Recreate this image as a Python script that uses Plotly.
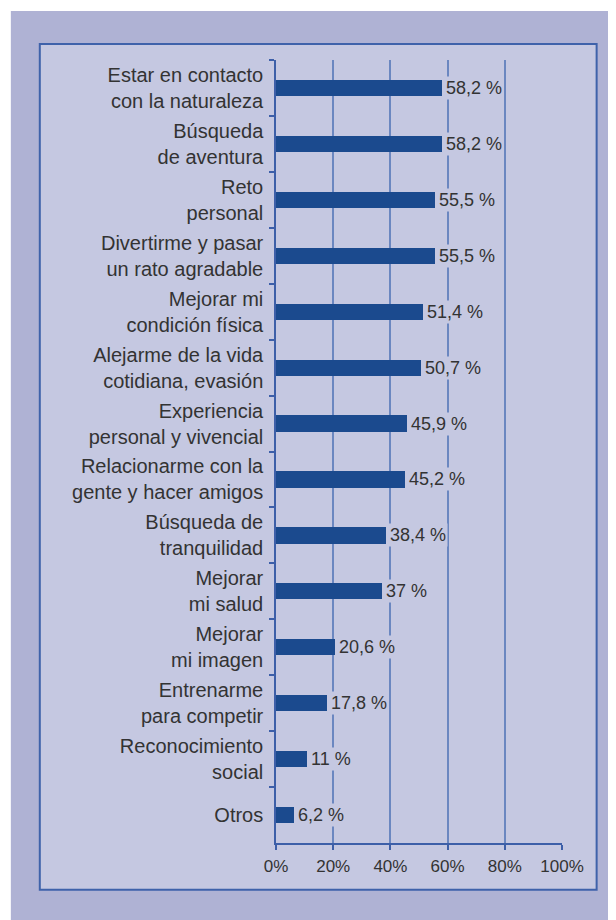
import plotly.graph_objects as go

categories = [
    "Estar en contacto<br>con la naturaleza",
    "Búsqueda<br>de aventura",
    "Reto<br>personal",
    "Divertirme y pasar<br>un rato agradable",
    "Mejorar mi<br>condición física",
    "Alejarme de la vida<br>cotidiana, evasión",
    "Experiencia<br>personal y vivencial",
    "Relacionarme con la<br>gente y hacer amigos",
    "Búsqueda de<br>tranquilidad",
    "Mejorar<br>mi salud",
    "Mejorar<br>mi imagen",
    "Entrenarme<br>para competir",
    "Reconocimiento<br>social",
    "Otros",
]
values = [58.2, 58.2, 55.5, 55.5, 51.4, 50.7, 45.9, 45.2, 38.4, 37, 20.6, 17.8, 11, 6.2]
value_labels = ["58,2 %", "58,2 %", "55,5 %", "55,5 %", "51,4 %", "50,7 %", "45,9 %",
                "45,2 %", "38,4 %", "37 %", "20,6 %", "17,8 %", "11 %", "6,2 %"]
x_ticks = [0, 20, 40, 60, 80, 100]
x_tick_labels = ["0%", "20%", "40%", "60%", "80%", "100%"]

W, H = 616, 920
# page offset of the figure (body margin) is 8px; margins given in figure px
ML, MR, MT, MB = 267.7, 61.7, 52, 84.7
PW, PH = W - ML - MR, H - MT - MB

OUTER = "#afb2d4"
PANEL = "#c5c8e1"
BAR = "#1b4a8e"
GRID = "#6b87c0"
AXIS = "#3d5fa8"
TEXT = "#333333"
FONT = "Liberation Sans, Arial, sans-serif"


def px_x(p):
    return (p - ML) / PW


def px_y(p):
    return 1 - (p - MT) / PH


fig = go.Figure(
    go.Bar(
        x=values,
        y=categories,
        orientation="h",
        marker=dict(color=BAR, line=dict(width=0)),
        width=0.29,
        hoverinfo="skip",
    )
)

for v, c, t in zip(values, categories, value_labels):
    fig.add_annotation(
        x=v, y=c, text=t, xanchor="left", yanchor="middle", xshift=2,
        showarrow=False, bgcolor=PANEL, borderpad=1,
        font=dict(family=FONT, size=18, color=TEXT),
    )

fig.add_shape(type="rect", xref="paper", yref="paper",
              x0=px_x(2), x1=px_x(630), y0=px_y(940), y1=px_y(3),
              fillcolor=OUTER, line=dict(width=0), layer="below")
fig.add_shape(type="rect", xref="paper", yref="paper",
              x0=px_x(31), x1=px_x(589), y0=px_y(882), y1=px_y(36),
              fillcolor=PANEL, line=dict(color="#3f62aa", width=2), layer="below")

fig.update_layout(
    width=W, height=H,
    margin=dict(l=ML, r=MR, t=MT, b=MB),
    paper_bgcolor="white",
    plot_bgcolor="rgba(0,0,0,0)",
    showlegend=False,
    bargap=0,
    font=dict(family=FONT, color=TEXT),
    xaxis=dict(
        range=[0, 100], tickvals=x_ticks, ticktext=x_tick_labels,
        showgrid=True, gridcolor=GRID, gridwidth=1.5, zeroline=False,
        showline=True, linecolor=AXIS, linewidth=1.5,
        ticks="outside", ticklen=5, tickcolor=AXIS, tickwidth=1.5,
        ticklabelstandoff=2,
        tickfont=dict(family=FONT, size=17, color=TEXT),
        fixedrange=True,
    ),
    yaxis=dict(
        categoryorder="array", categoryarray=categories, autorange="reversed",
        showgrid=False, zeroline=False,
        showline=True, linecolor=AXIS, linewidth=1.5,
        ticks="outside", ticklen=5, tickcolor=AXIS, tickwidth=1.5,
        tickson="boundaries", ticklabelstandoff=7,
        tickfont=dict(family=FONT, size=20, color=TEXT),
        fixedrange=True,
    ),
)

fig.write_html("out.html")
